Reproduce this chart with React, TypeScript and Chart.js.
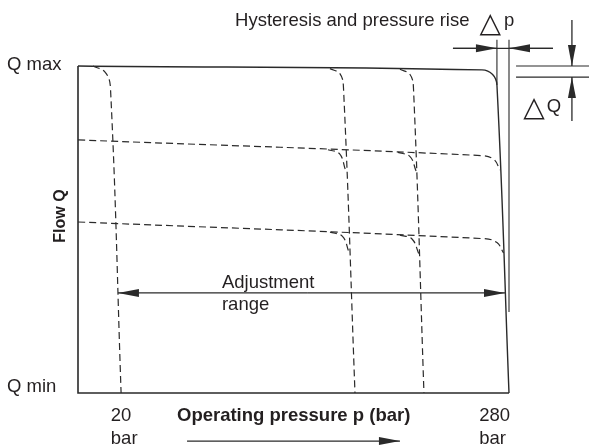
import React, { useEffect, useRef } from "react";
import { Chart, registerables } from "chart.js";

Chart.register(...registerables);

type Pt = [number, number];

// ---- scale ranges (pressure in bar, flow in % of Q max) ----
const pressureRange: Pt = [-10, 290];
const flowRange: Pt = [0, 100];

// ---- tick labels ----
const pressureTicks = [20, 280];
const pressureUnit = "bar";
const flowTickValues = [100, 0];
const flowTickLabels = ["Q max", "Q min"];
const xTitle = "Operating pressure p (bar)";
const yTitle = "Flow Q";
const hysteresisTitle = "Hysteresis and pressure rise";
const deltaSymbol = "\u25B3";
const deltaPLetter = "p";
const deltaQLetter = "Q";
const adjustmentLabel = ["Adjustment", "range"];

// ---- characteristic curves [pressure, flow] ----
const maxCurve: Pt[] = [[-10, 100], [271.2, 98.8], [278.6, 97.4], [281.6, 94.2], [290, 0]];
const pressureSetting20: Pt[] = [[0.44, 100], [9.1, 98.0], [12.6, 93.3], [20, 0]];
const pressureSettingA: Pt[] = [[165.4, 99.2], [172.4, 97.6], [174.8, 93.3], [182.8, 0]];
const pressureSettingB: Pt[] = [[214.1, 99.0], [221.1, 97.4], [223.5, 93.3], [230.8, 0]];
const flowSettingHigh: Pt[] = [[-10, 77.4], [271.2, 72.6], [279.5, 71.4], [283.7, 68.2]];
const flowSettingLow: Pt[] = [[-10, 52.3], [272.6, 47.2], [281.6, 46.0], [286.2, 42.8]];
const cornerHighA: Pt[] = [[164.0, 74.4], [172.0, 73.2], [176.2, 68.2]];
const cornerHighB: Pt[] = [[212.7, 73.6], [221.1, 72.3], [225.3, 67.9]];
const cornerLowA: Pt[] = [[165.4, 49.2], [174.1, 47.9], [178.6, 43.1]];
const cornerLowB: Pt[] = [[214.1, 48.3], [222.5, 47.1], [227.3, 42.5]];

// ---- frame and dimension lines ----
const axisFrame: Pt[] = [[-10, 100], [-10, 0], [290, 0]];
const hystLineLeft: Pt[] = [[281.6, 108], [281.6, 94.2]];
const hystLineRight: Pt[] = [[290, 108], [290, 24.8]];
const deltaPLine: Pt[] = [[251, 105.4], [320.6, 105.4]];
const deltaQUpper: Pt[] = [[294.9, 100], [345.7, 100]];
const deltaQLower: Pt[] = [[294.9, 96.6], [345.7, 96.6]];

// arrows: [tail, tip]
const arrowLines: [Pt, Pt][] = [
  [[251, 105.4], [281.6, 105.4]],
  [[320.6, 105.4], [290, 105.4]],
  [[333.8, 114.1], [333.8, 100]],
  [[333.8, 83.2], [333.8, 96.6]],
  [[150, 30.6], [17.8, 30.6]],
  [[150, 30.6], [287.2, 30.6]],
  [[65.9, -14.7], [214.1, -14.7]],
];

const LINE = "#2a2a2a";
const TEXT = "#231f20";
const FONT = '"Liberation Sans", Arial, Helvetica, sans-serif';

const toXY = (pts: Pt[]) => pts.map(([x, y]) => ({ x, y }));

const annotationPlugin = {
  id: "annotationPlugin",
  afterDatasetsDraw(chart: any) {
    const ctx: CanvasRenderingContext2D = chart.ctx;
    const xs = chart.scales.x;
    const ys = chart.scales.y;
    const X = (v: number) => xs.getPixelForValue(v);
    const Y = (v: number) => ys.getPixelForValue(v);
    ctx.save();
    // arrows
    ctx.strokeStyle = LINE;
    ctx.fillStyle = LINE;
    ctx.lineWidth = 1.3;
    for (const [tail, tip] of arrowLines) {
      const x1 = X(tail[0]), y1 = Y(tail[1]), x2 = X(tip[0]), y2 = Y(tip[1]);
      ctx.beginPath();
      ctx.moveTo(x1, y1);
      ctx.lineTo(x2, y2);
      ctx.stroke();
      const ang = Math.atan2(y2 - y1, x2 - x1);
      const len = 21, half = 4;
      const bx = x2 - Math.cos(ang) * len, by = y2 - Math.sin(ang) * len;
      ctx.beginPath();
      ctx.moveTo(x2, y2);
      ctx.lineTo(bx + Math.sin(ang) * half, by - Math.cos(ang) * half);
      ctx.lineTo(bx - Math.sin(ang) * half, by + Math.cos(ang) * half);
      ctx.closePath();
      ctx.fill();
    }
    // texts
    ctx.fillStyle = TEXT;
    ctx.textBaseline = "alphabetic";
    ctx.textAlign = "left";
    ctx.font = `18.5px ${FONT}`;
    ctx.fillText(hysteresisTitle, X(99.3), Y(112.2));
    ctx.fillText(deltaPLetter, X(286.5), Y(112.2));
    ctx.fillText(deltaQLetter, X(316.2), Y(85.8));
    // flow ticks
    flowTickValues.forEach((v, i) => {
      const q = v === 100 ? 98.9 : 0.3;
      ctx.fillText(flowTickLabels[i], X(-59.4), Y(q));
    });
    // pressure ticks
    pressureTicks.forEach((v) => {
      const s = String(v);
      const w = ctx.measureText(s).width;
      const left = X(v) - w / 2;
      ctx.fillText(s, left, Y(-8.6));
      ctx.fillText(pressureUnit, left, Y(-15.6));
    });
    ctx.fillText(adjustmentLabel[0], X(90.2), Y(32.1));
    ctx.fillText(adjustmentLabel[1], X(90.2), Y(25.4));
    ctx.font = `bold 18.5px ${FONT}`;
    ctx.fillText(xTitle, X(58.9), Y(-8.6));
    // y title
    ctx.save();
    ctx.translate(X(-21.8), Y(54.1));
    ctx.rotate(-Math.PI / 2);
    ctx.textAlign = "center";
    ctx.textBaseline = "middle";
    ctx.font = `bold 16px ${FONT}`;
    ctx.fillText(yTitle, 0, 0);
    ctx.restore();
    // delta symbols
    ctx.font = `28px "DejaVu Sans", sans-serif`;
    ctx.fillText(deltaSymbol, X(269.5), Y(110.4));
    ctx.fillText(deltaSymbol, X(300.0), Y(84.7));
    ctx.restore();
  },
};

export default function App() {
  const ref = useRef<HTMLCanvasElement>(null);
  useEffect(() => {
    if (!ref.current) return;
    const solid = (pts: Pt[], w: number, tension = 0) => ({
      data: toXY(pts),
      showLine: true,
      borderColor: LINE,
      borderWidth: w,
      pointRadius: 0,
      tension,
      clip: false as const,
      fill: false,
    });
    const dashed = (pts: Pt[]) => ({
      ...solid(pts, 1.2, 0.4),
      borderDash: [7, 4],
    });
    const chart = new Chart(ref.current, {
      type: "scatter",
      data: {
        datasets: [
          solid(axisFrame, 1.6),
          solid(maxCurve, 1.4, 0.4),
          dashed(pressureSetting20),
          dashed(pressureSettingA),
          dashed(pressureSettingB),
          dashed(flowSettingHigh),
          dashed(flowSettingLow),
          dashed(cornerHighA),
          dashed(cornerHighB),
          dashed(cornerLowA),
          dashed(cornerLowB),
          solid(hystLineLeft, 1.1),
          solid(hystLineRight, 1.1),
          solid(deltaPLine, 1.2),
          solid(deltaQUpper, 1.2),
          solid(deltaQLower, 1.2),
        ] as any,
      },
      options: {
        animation: false,
        responsive: false,
        events: [],
        layout: { padding: { left: 78, right: 80, top: 66, bottom: 54 } },
        scales: {
          x: { type: "linear", min: pressureRange[0], max: pressureRange[1], display: false },
          y: { type: "linear", min: flowRange[0], max: flowRange[1], display: false },
        },
        plugins: { legend: { display: false }, tooltip: { enabled: false } },
        elements: { line: { capBezierPoints: false } },
      },
      plugins: [annotationPlugin],
    });
    return () => chart.destroy();
  }, []);
  return (
    <div style={{ position: "absolute", left: 0, top: 0, width: 589, height: 447, background: "#fff" }}>
      <canvas ref={ref} width={589} height={447} />
    </div>
  );
}
